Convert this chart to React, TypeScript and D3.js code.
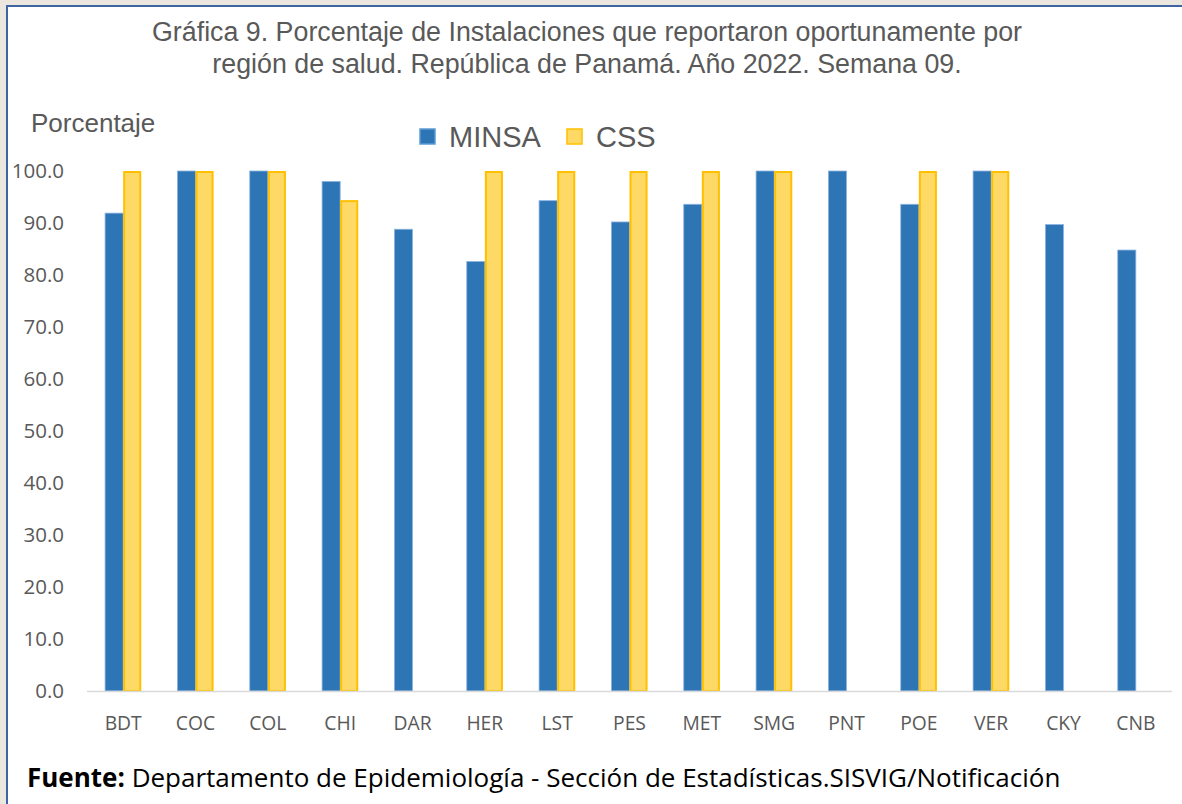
import React, { useEffect, useRef } from "react";
import * as d3 from "d3";

const categories = ["BDT", "COC", "COL", "CHI", "DAR", "HER", "LST", "PES", "MET", "SMG", "PNT", "POE", "VER", "CKY", "CNB"];
const minsa: (number | null)[] = [91.9, 100, 100, 98.0, 88.8, 82.6, 94.3, 90.2, 93.6, 100, 100, 93.6, 100, 89.7, 84.8];
const css: (number | null)[] = [100, 100, 100, 94.4, null, 100, 100, 100, 100, 100, null, 100, 100, null, null];
const yTicks = [0, 10, 20, 30, 40, 50, 60, 70, 80, 90, 100];
const seriesNames = ["MINSA", "CSS"];

const W = 1182;
const H = 804;

export default function App() {
  const ref = useRef<SVGSVGElement>(null);

  useEffect(() => {
    const svg = d3.select(ref.current);
    svg.selectAll("*").remove();

    svg.append("rect").attr("width", W).attr("height", H).attr("fill", "#ebe7df");
    svg.append("rect").attr("x", 7).attr("y", 6).attr("width", W).attr("height", H)
      .attr("fill", "#ffffff").attr("stroke", "#3e64a4").attr("stroke-width", 2);

    const x = d3.scaleBand<string>().domain(categories).range([87, 1172]).paddingInner(0.5).paddingOuter(0.25);
    const xs = d3.scaleBand<string>().domain(seriesNames).range([0, x.bandwidth()]).padding(0);
    const y = d3.scaleLinear().domain([0, 100]).range([691, 171]);

    const title = svg.append("text").attr("text-anchor", "middle")
      .attr("font-family", "Liberation Sans, Arial, sans-serif").attr("font-size", 26.8).attr("fill", "#595959");
    title.append("tspan").attr("x", 587).attr("y", 41).text("Gráfica 9. Porcentaje de Instalaciones que reportaron oportunamente por");
    title.append("tspan").attr("x", 587).attr("y", 73).text("región de salud. República de Panamá. Año 2022. Semana 09.");

    svg.append("text").attr("x", 31).attr("y", 132).attr("font-family", "Liberation Sans, Arial, sans-serif")
      .attr("font-size", 26).attr("fill", "#595959").text("Porcentaje");

    const leg = [
      { name: "MINSA", x: 420, fill: "#2e75b6", stroke: "#5b9bd5" },
      { name: "CSS", x: 567, fill: "#ffd966", stroke: "#ffc000" },
    ];
    leg.forEach((l) => {
      svg.append("rect").attr("x", l.x).attr("y", 129).attr("width", 15).attr("height", 15)
        .attr("fill", l.fill).attr("stroke", l.stroke).attr("stroke-width", 1.5);
      svg.append("text").attr("x", l.x + 29).attr("y", 147).attr("font-family", "Liberation Sans, Arial, sans-serif")
        .attr("font-size", 29).attr("fill", "#595959").text(l.name);
    });

    svg.append("g").selectAll("text").data(yTicks).join("text")
      .attr("x", 64).attr("y", (d) => y(d)).attr("dy", "0.35em").attr("text-anchor", "end")
      .attr("font-family", "Open Sans, sans-serif").attr("font-size", 20.5).attr("fill", "#595959")
      .text((d) => d3.format(".1f")(d));

    const g = svg.append("g");
    categories.forEach((c, i) => {
      const vals = [minsa[i], css[i]];
      vals.forEach((v, j) => {
        if (v == null) return;
        const bx = (x(c) as number) + (xs(seriesNames[j]) as number);
        const bw = xs.bandwidth();
        if (j === 0) {
          g.append("rect").attr("x", bx).attr("y", y(v)).attr("width", bw).attr("height", y(0) - y(v))
            .attr("fill", "#2e75b6").attr("stroke", "#8db4e2").attr("stroke-width", 0.8);
        } else {
          g.append("rect").attr("x", bx + 1).attr("y", y(v) + 1).attr("width", bw - 2).attr("height", y(0) - y(v) - 1)
            .attr("fill", "#ffd966").attr("stroke", "#ffc000").attr("stroke-width", 2);
        }
      });
    });

    svg.append("line").attr("x1", 87).attr("x2", 1172).attr("y1", 691.5).attr("y2", 691.5)
      .attr("stroke", "#d9d9d9").attr("stroke-width", 1.5);

    svg.append("g").selectAll("text").data(categories).join("text")
      .attr("x", (d) => (x(d) as number) + x.bandwidth() / 2).attr("y", 730).attr("text-anchor", "middle")
      .attr("font-family", "Open Sans, sans-serif").attr("font-size", 19.3).attr("fill", "#595959")
      .text((d) => d);

    const f = svg.append("text").attr("x", 27).attr("y", 787).attr("font-family", "Open Sans, sans-serif")
      .attr("font-size", 26).attr("fill", "#000000");
    f.append("tspan").attr("font-weight", "bold").text("Fuente:");
    f.append("tspan").text(" Departamento de Epidemiología - Sección de Estadísticas.SISVIG/Notificación");
  }, []);

  return (
    <svg ref={ref} width={W} height={H} style={{ position: "absolute", left: 0, top: 0, display: "block" }} />
  );
}
